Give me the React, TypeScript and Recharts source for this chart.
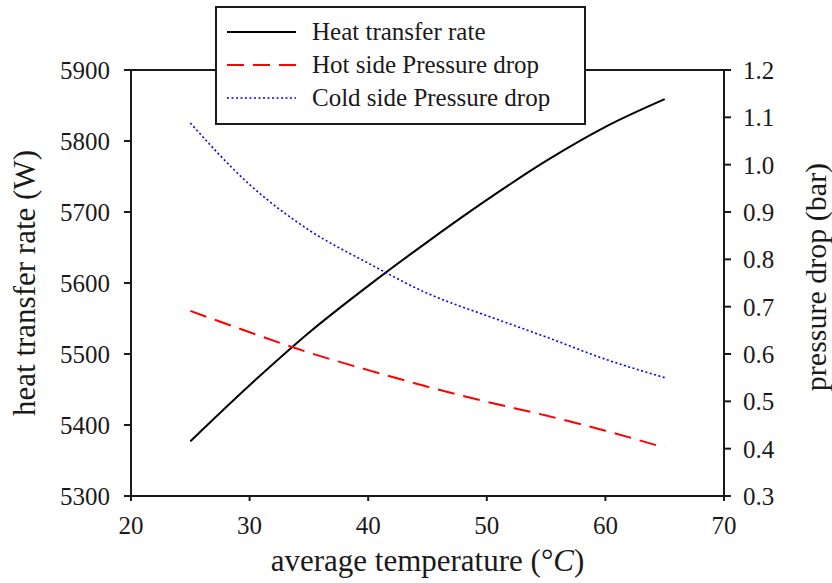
import { CartesianGrid, Legend, Line, LineChart, ReferenceLine, XAxis, YAxis } from 'recharts'

const temps = [25, 30, 35, 40, 45, 50, 55, 60, 65]
const heatRate = [5377, 5456, 5530, 5596, 5658, 5717, 5772, 5820, 5859]
const hotDrop = [0.691, 0.646, 0.603, 0.566, 0.531, 0.499, 0.47, 0.438, 0.402]
const coldDrop = [1.088, 0.958, 0.862, 0.792, 0.728, 0.681, 0.636, 0.589, 0.55]

const xTicks = [20, 30, 40, 50, 60, 70]
const leftTicks = [5300, 5400, 5500, 5600, 5700, 5800, 5900]
const rightTicks = [0.3, 0.4, 0.5, 0.6, 0.7, 0.8, 0.9, 1.0, 1.1, 1.2]

const data = temps.map((t, i) => ({ t, heat: heatRate[i], hot: hotDrop[i], cold: coldDrop[i] }))

const FONT = '"Liberation Serif", "Times New Roman", serif'
const INK = '#1a1a1a'

const legendRows = [
  { name: 'Heat transfer rate', color: '#000000', dash: undefined, width: 2 },
  { name: 'Hot side Pressure drop', color: '#ff0000', dash: '17 9', width: 2 },
  { name: 'Cold side Pressure drop', color: '#0000ff', dash: '2 2.5', width: 1.6 },
]

function LegendBox() {
  return (
    <svg width={371} height={119} style={{ display: 'block' }}>
      <rect x={1} y={1} width={369} height={117} fill='#fff' stroke={INK} strokeWidth={2} />
      {legendRows.map((r, i) => (
        <g key={r.name}>
          <line x1={12} x2={81} y1={26 + i * 33} y2={26 + i * 33} stroke={r.color} strokeWidth={r.width} strokeDasharray={r.dash} />
          <text x={97} y={26 + i * 33 + 8} fontFamily={FONT} fontSize={25} fill={INK}>{r.name}</text>
        </g>
      ))}
    </svg>
  )
}

const tickStyle = { fontFamily: FONT, fontSize: 25, fill: INK }
const lineStyle = { stroke: INK, strokeWidth: 2 }

export default function App() {
  return (
    <div style={{ position: 'absolute', left: 0, top: 0, background: '#fff' }}>
      <LineChart width={832} height={583} data={data} margin={{ top: 70, right: 0, left: 0, bottom: 0 }}>
        <CartesianGrid horizontal={false} vertical={false} />
        <XAxis
          dataKey='t'
          type='number'
          domain={[20, 70]}
          ticks={xTicks}
          height={87}
          tick={tickStyle}
          tickSize={5}
          tickMargin={15}
          axisLine={lineStyle}
          tickLine={lineStyle}
          label={{
            content: (p: any) => {
              const vb = p.viewBox
              return (
                <text x={vb.x + vb.width / 2} y={vb.y + 75} textAnchor='middle' fontFamily={FONT} fontSize={31} fill={INK}>
                  average temperature (°<tspan fontStyle='italic'>C</tspan>)
                </text>
              )
            },
          }}
        />
        <YAxis
          yAxisId='left'
          domain={[5300, 5900]}
          ticks={leftTicks}
          width={131}
          tick={tickStyle}
          tickSize={7}
          tickMargin={14}
          axisLine={lineStyle}
          tickLine={lineStyle}
          label={{
            content: (p: any) => {
              const vb = p.viewBox
              const cx = 24
              const cy = vb.y + vb.height / 2
              return (
                <text x={cx} y={cy} transform={`rotate(-90 ${cx} ${cy})`} textAnchor='middle' dominantBaseline='central' fontFamily={FONT} fontSize={31} fill={INK}>
                  heat transfer rate (W)
                </text>
              )
            },
          }}
        />
        <YAxis
          yAxisId='right'
          orientation='right'
          domain={[0.3, 1.2]}
          ticks={rightTicks}
          tickFormatter={(v: number) => v.toFixed(1)}
          width={108}
          tick={tickStyle}
          tickSize={7}
          tickMargin={12}
          axisLine={lineStyle}
          tickLine={lineStyle}
          label={{
            content: (p: any) => {
              const vb = p.viewBox
              const cx = vb.x + 91
              const cy = vb.y + vb.height / 2 - 6
              return (
                <text x={cx} y={cy} transform={`rotate(-90 ${cx} ${cy})`} textAnchor='middle' dominantBaseline='central' fontFamily={FONT} fontSize={30} fill={INK}>
                  pressure drop (bar)
                </text>
              )
            },
          }}
        />
        <ReferenceLine yAxisId='left' y={5900} stroke={INK} strokeWidth={2} />
        <Line yAxisId='left' type='monotone' dataKey='heat' name='Heat transfer rate' stroke='#000' strokeWidth={2} dot={false} isAnimationActive={false} />
        <Line yAxisId='right' type='monotone' dataKey='hot' name='Hot side Pressure drop' stroke='#ff0000' strokeWidth={2} strokeDasharray='17 9' dot={false} isAnimationActive={false} />
        <Line yAxisId='right' type='monotone' dataKey='cold' name='Cold side Pressure drop' stroke='#0000ff' strokeWidth={1.6} strokeDasharray='2 2.5' dot={false} isAnimationActive={false} />
        <Legend
          layout='vertical'
          align='center'
          verticalAlign='middle'
          wrapperStyle={{ left: 215, top: 6, width: 371, height: 119 }}
          content={() => <LegendBox />}
        />
      </LineChart>
    </div>
  )
}
